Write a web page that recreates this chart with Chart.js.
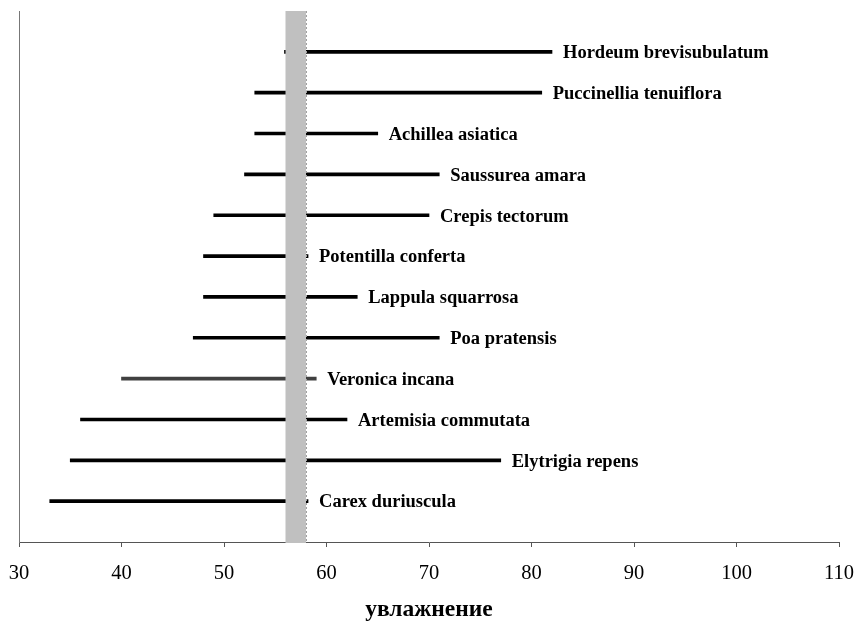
<!DOCTYPE html>
<html lang="ru">
<head>
<meta charset="UTF-8">
<title>увлажнение</title>
<script src="https://cdn.jsdelivr.net/npm/chart.js"></script>
<style>
  html, body { margin: 0; padding: 0; background: #fff; }
  #wrap { width: 855px; height: 622px; }
</style>
</head>
<body>
<div id="wrap"><canvas id="rangeChart"></canvas></div>
<script>
// species, top to bottom
const species = [
    "Hordeum brevisubulatum", "Puccinellia tenuiflora", "Achillea asiatica",
    "Saussurea amara", "Crepis tectorum", "Potentilla conferta",
    "Lappula squarrosa", "Poa pratensis", "Veronica incana",
    "Artemisia commutata", "Elytrigia repens", "Carex duriuscula"
];
const rangeMin = [55.9, 53, 53, 52, 49, 48, 48, 47, 40, 36, 35, 33];
const rangeMax = [82, 81, 65, 71, 70, 58.2, 63, 71, 59, 62, 77, 58.2];
const optimumBand = [56, 58];
const xTicks = [30, 40, 50, 60, 70, 80, 90, 100, 110];
const xTitle = "увлажнение";

const n = species.length;
const points = species.map((s, i) => ({ x: [rangeMin[i], rangeMax[i]], y: n - i }));
const colors = species.map(s => s === "Veronica incana" ? "#404040" : "#000000");
const serif = "'Liberation Serif', 'Times New Roman', serif";

// grey band on top of the lines + species names right of each line
const bandAndLabels = {
    id: "bandAndLabels",
    afterDatasetsDraw(chart) {
        const ctx = chart.ctx;
        const xs = chart.scales.x, area = chart.chartArea;
        const x1 = xs.getPixelForValue(optimumBand[0]);
        const x2 = xs.getPixelForValue(optimumBand[1]);
        ctx.save();
        ctx.fillStyle = "#c0c0c0";
        ctx.fillRect(x1, area.top, x2 - x1, area.bottom - area.top + 1);
        ctx.strokeStyle = "#a0a0a0";
        ctx.lineWidth = 1;
        ctx.setLineDash([2, 2]);
        ctx.beginPath();
        ctx.moveTo(Math.round(x2) + 0.5, area.top);
        ctx.lineTo(Math.round(x2) + 0.5, area.bottom);
        ctx.stroke();
        ctx.setLineDash([]);

        ctx.font = "bold 18.5px " + serif;
        ctx.fillStyle = "#000";
        ctx.textBaseline = "middle";
        ctx.textAlign = "left";
        const meta = chart.getDatasetMeta(0);
        meta.data.forEach((bar, i) => {
            const endX = Math.max(xs.getPixelForValue(rangeMax[i]), x2);
            ctx.fillText(species[i], endX + 11, bar.y + 1.5);
        });
        ctx.restore();
    }
};

new Chart(document.getElementById("rangeChart"), {
    type: "bar",
    data: {
        datasets: [{
            data: points,
            backgroundColor: colors,
            borderWidth: 0,
            barThickness: 3
        }]
    },
    options: {
        indexAxis: "y",
        responsive: true,
        maintainAspectRatio: false,
        animation: false,
        layout: { padding: { top: 11, right: 16, left: 0, bottom: 0 } },
        plugins: {
            legend: { display: false },
            tooltip: { enabled: false }
        },
        scales: {
            x: {
                type: "linear",
                min: 30,
                max: 110,
                afterBuildTicks(s) { s.ticks = xTicks.map(v => ({ value: v })); },
                afterFit(s) { s.height = 80; s.paddingLeft = 0; s.paddingRight = 0; },
                grid: { drawOnChartArea: false, tickLength: 5, color: "#555" },
                border: { color: "#555", width: 1 },
                ticks: {
                    color: "#000",
                    padding: 14,
                    maxRotation: 0,
                    font: { family: serif, size: 20.5 }
                },
                title: {
                    display: true,
                    text: xTitle,
                    color: "#000",
                    padding: { top: 0, bottom: 0 },
                    font: { family: serif, size: 23.5, weight: "bold", lineHeight: 1 }
                }
            },
            y: {
                type: "linear",
                min: 0,
                max: n + 1,
                offset: false,
                afterFit(s) { s.width = 19; },
                grid: { display: false },
                border: { color: "#777", width: 1 },
                ticks: { display: false }
            }
        }
    },
    plugins: [bandAndLabels]
});
</script>
</body>
</html>
